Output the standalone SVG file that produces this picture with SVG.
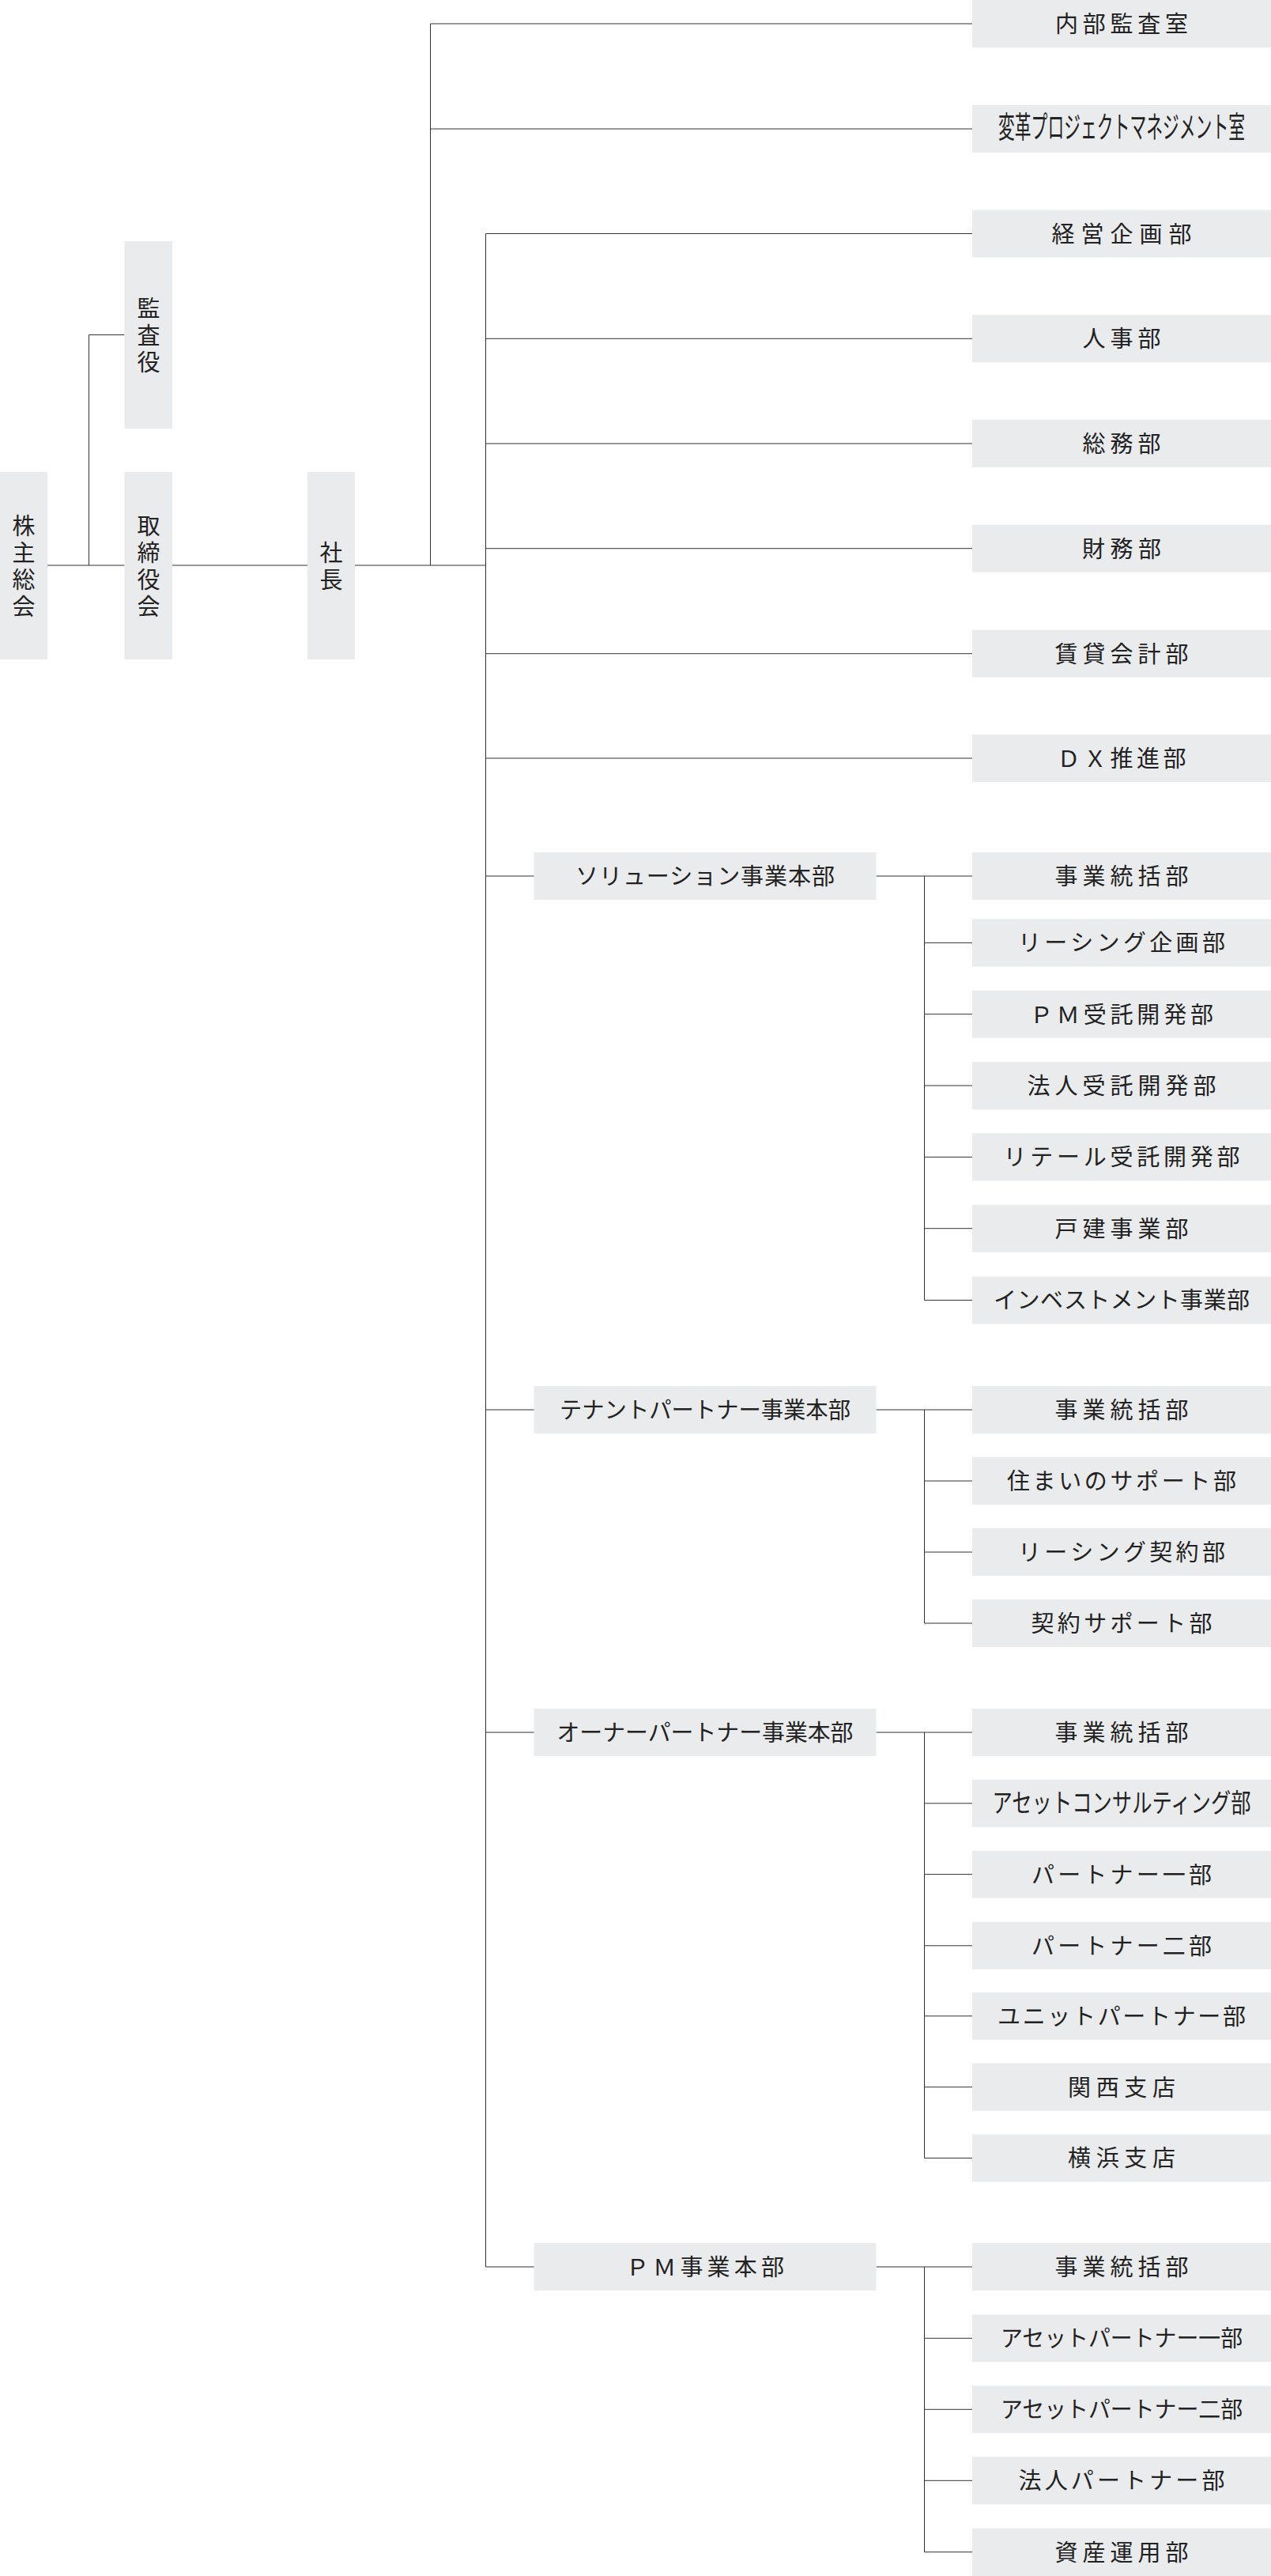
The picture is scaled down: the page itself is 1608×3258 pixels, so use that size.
<svg xmlns="http://www.w3.org/2000/svg" width="1608" height="3258" viewBox="0 0 1608 3258">
<style>
.box{fill:#eaebed}
.t{font-family:"Noto Sans CJK JP","Noto Sans CJK SC",sans-serif;font-size:29px;fill:#222;text-anchor:middle}
.v{writing-mode:vertical-rl;letter-spacing:5px}
.c{fill:none;stroke:#333;stroke-width:1}
</style>
<rect width="1608" height="3258" fill="#fff"/>
<g id="connectors" class="c">
<path d="M60 715H157.5M112.5 715V423.5H157.5M218 715H389M449 715H614.5M544.5 715V30H1230M544.5 163H1230"/>
<path d="M614.5 295.5V2867M614.5 295.5H1230M614.5 428.3H1230M614.5 561H1230M614.5 693.7H1230M614.5 826.7H1230M614.5 959H1230"/>
<path d="M614.5 1108H676M614.5 1783H676M614.5 2191H676M614.5 2867H676"/>
<path d="M1108.5 1108H1230M1169.5 1108V1644.4M1169.5 1192.4H1230M1169.5 1282.7H1230M1169.5 1373H1230M1169.5 1463.4H1230M1169.5 1553.7H1230M1169.5 1644.4H1230"/>
<path d="M1108.5 1783H1230M1169.5 1783V2053M1169.5 1873H1230M1169.5 1963H1230M1169.5 2053H1230"/>
<path d="M1108.5 2191H1230M1169.5 2191V2729.4M1169.5 2280.8H1230M1169.5 2370.6H1230M1169.5 2460.8H1230M1169.5 2549.8H1230M1169.5 2639.6H1230M1169.5 2729.4H1230"/>
<path d="M1108.5 2867H1230M1169.5 2867V3227.7M1169.5 2957.3H1230M1169.5 3047.3H1230M1169.5 3137.3H1230M1169.5 3227.7H1230"/>
</g>
<g id="n-kabunushi"><rect class="box" x="0" y="597" width="60" height="237"/><text class="t v" x="30" y="718">株主総会</text></g>
<g id="n-kansayaku"><rect class="box" x="157.5" y="305" width="60.5" height="237"/><text class="t v" x="188" y="426">監査役</text></g>
<g id="n-torishimariyakukai"><rect class="box" x="157.5" y="597" width="60.5" height="237"/><text class="t v" x="188" y="718">取締役会</text></g>
<g id="n-shacho"><rect class="box" x="389" y="597" width="60" height="237"/><text class="t v" x="419" y="718">社長</text></g>
<g id="n-naibukansa"><rect class="box" x="1230" y="0" width="378" height="60"/><text class="t" x="1419" y="41" textLength="168" lengthAdjust="spacing">内部監査室</text></g>
<g id="n-henkaku"><rect class="box" x="1230" y="133" width="378" height="60"/><text class="t" transform="translate(1419 163) scale(1 1.3)" x="0" y="8.5" font-size="22.3" textLength="312" lengthAdjust="spacingAndGlyphs">変革プロジェクトマネジメント室</text></g>
<g id="n-keiei"><rect class="box" x="1230" y="265.5" width="378" height="60"/><text class="t" x="1419" y="306.5" textLength="177" lengthAdjust="spacing">経営企画部</text></g>
<g id="n-jinji"><rect class="box" x="1230" y="398.3" width="378" height="60"/><text class="t" x="1419" y="439.3" textLength="99" lengthAdjust="spacing">人事部</text></g>
<g id="n-somu"><rect class="box" x="1230" y="531" width="378" height="60"/><text class="t" x="1419" y="572" textLength="99" lengthAdjust="spacing">総務部</text></g>
<g id="n-zaimu"><rect class="box" x="1230" y="663.7" width="378" height="60"/><text class="t" x="1419" y="704.7" textLength="100" lengthAdjust="spacing">財務部</text></g>
<g id="n-chintai"><rect class="box" x="1230" y="796.7" width="378" height="60"/><text class="t" x="1419" y="837.7" textLength="169" lengthAdjust="spacing">賃貸会計部</text></g>
<g id="n-dx"><rect class="box" x="1230" y="929" width="378" height="60"/><text class="t" x="1419" y="970" textLength="163" lengthAdjust="spacing">ＤＸ推進部</text></g>
<g id="n-solution"><rect class="box" x="675.5" y="1078" width="433" height="60"/><text class="t" x="892" y="1119" textLength="328" lengthAdjust="spacing">ソリューション事業本部</text></g>
<g id="n-sol-1"><rect class="box" x="1230" y="1078" width="378" height="60"/><text class="t" x="1419" y="1119" textLength="169" lengthAdjust="spacing">事業統括部</text></g>
<g id="n-sol-2"><rect class="box" x="1230" y="1162.4" width="378" height="60"/><text class="t" x="1419" y="1203.4" textLength="262" lengthAdjust="spacing">リーシング企画部</text></g>
<g id="n-sol-3"><rect class="box" x="1230" y="1252.7" width="378" height="60"/><text class="t" x="1419" y="1293.7" textLength="232" lengthAdjust="spacing">ＰＭ受託開発部</text></g>
<g id="n-sol-4"><rect class="box" x="1230" y="1343" width="378" height="60"/><text class="t" x="1419" y="1384" textLength="239" lengthAdjust="spacing">法人受託開発部</text></g>
<g id="n-sol-5"><rect class="box" x="1230" y="1433.4" width="378" height="60"/><text class="t" x="1419" y="1474.4" textLength="299" lengthAdjust="spacing">リテール受託開発部</text></g>
<g id="n-sol-6"><rect class="box" x="1230" y="1523.7" width="378" height="60"/><text class="t" x="1419" y="1564.7" textLength="169" lengthAdjust="spacing">戸建事業部</text></g>
<g id="n-sol-7"><rect class="box" x="1230" y="1614.4" width="378" height="60"/><text class="t" x="1419" y="1655.4" textLength="324" lengthAdjust="spacing">インベストメント事業部</text></g>
<g id="n-tenant"><rect class="box" x="675.5" y="1753" width="433" height="60"/><text class="t" x="892" y="1794" textLength="368" lengthAdjust="spacingAndGlyphs">テナントパートナー事業本部</text></g>
<g id="n-ten-1"><rect class="box" x="1230" y="1753" width="378" height="60"/><text class="t" x="1419" y="1794" textLength="169" lengthAdjust="spacing">事業統括部</text></g>
<g id="n-ten-2"><rect class="box" x="1230" y="1843" width="378" height="60"/><text class="t" x="1419" y="1884" textLength="290" lengthAdjust="spacing">住まいのサポート部</text></g>
<g id="n-ten-3"><rect class="box" x="1230" y="1933" width="378" height="60"/><text class="t" x="1419" y="1974" textLength="262" lengthAdjust="spacing">リーシング契約部</text></g>
<g id="n-ten-4"><rect class="box" x="1230" y="2023" width="378" height="60"/><text class="t" x="1419" y="2064" textLength="229" lengthAdjust="spacing">契約サポート部</text></g>
<g id="n-owner"><rect class="box" x="675.5" y="2161" width="433" height="60"/><text class="t" x="892" y="2202" textLength="375" lengthAdjust="spacingAndGlyphs">オーナーパートナー事業本部</text></g>
<g id="n-own-1"><rect class="box" x="1230" y="2161" width="378" height="60"/><text class="t" x="1419" y="2202" textLength="169" lengthAdjust="spacing">事業統括部</text></g>
<g id="n-own-2"><rect class="box" x="1230" y="2250.8" width="378" height="60"/><text class="t" transform="translate(1419 2280.8) scale(1 1.15)" x="0" y="9.6" font-size="25.2" textLength="327" lengthAdjust="spacingAndGlyphs">アセットコンサルティング部</text></g>
<g id="n-own-3"><rect class="box" x="1230" y="2340.6" width="378" height="60"/><text class="t" x="1419" y="2381.6" textLength="228" lengthAdjust="spacing">パートナー一部</text></g>
<g id="n-own-4"><rect class="box" x="1230" y="2430.8" width="378" height="60"/><text class="t" x="1419" y="2471.8" textLength="228" lengthAdjust="spacing">パートナー二部</text></g>
<g id="n-own-5"><rect class="box" x="1230" y="2519.8" width="378" height="60"/><text class="t" x="1419" y="2560.8" textLength="314" lengthAdjust="spacing">ユニットパートナー部</text></g>
<g id="n-own-6"><rect class="box" x="1230" y="2609.6" width="378" height="60"/><text class="t" x="1419" y="2650.6" textLength="136" lengthAdjust="spacing">関西支店</text></g>
<g id="n-own-7"><rect class="box" x="1230" y="2699.4" width="378" height="60"/><text class="t" x="1419" y="2740.4" textLength="136" lengthAdjust="spacing">横浜支店</text></g>
<g id="n-pm"><rect class="box" x="675.5" y="2837" width="433" height="60"/><text class="t" x="892" y="2878" textLength="200" lengthAdjust="spacing">ＰＭ事業本部</text></g>
<g id="n-pm-1"><rect class="box" x="1230" y="2837" width="378" height="60"/><text class="t" x="1419" y="2878" textLength="169" lengthAdjust="spacing">事業統括部</text></g>
<g id="n-pm-2"><rect class="box" x="1230" y="2927.3" width="378" height="60"/><text class="t" x="1419" y="2968.3" textLength="306" lengthAdjust="spacingAndGlyphs">アセットパートナー一部</text></g>
<g id="n-pm-3"><rect class="box" x="1230" y="3017.3" width="378" height="60"/><text class="t" x="1419" y="3058.3" textLength="306" lengthAdjust="spacingAndGlyphs">アセットパートナー二部</text></g>
<g id="n-pm-4"><rect class="box" x="1230" y="3107.3" width="378" height="60"/><text class="t" x="1419" y="3148.3" textLength="261" lengthAdjust="spacing">法人パートナー部</text></g>
<g id="n-pm-5"><rect class="box" x="1230" y="3197.7" width="378" height="60.3"/><text class="t" x="1419" y="3238.7" textLength="169" lengthAdjust="spacing">資産運用部</text></g>
</svg>
